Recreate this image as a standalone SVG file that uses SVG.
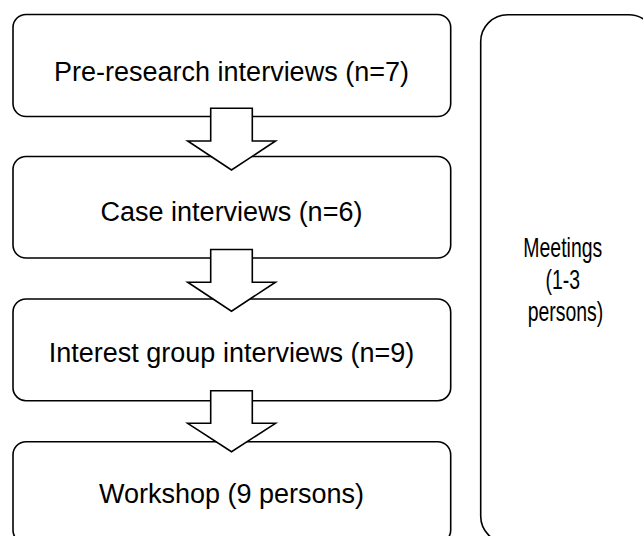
<svg xmlns="http://www.w3.org/2000/svg" width="643" height="536" viewBox="0 0 643 536">
  <style>
    .box { fill: #ffffff; stroke: #000000; stroke-width: 1.6; }
    .arrow { fill: #ffffff; stroke: #000000; stroke-width: 1.6; stroke-linejoin: miter; }
    .label { font-family: "Liberation Sans", Arial, sans-serif; font-size: 27px; fill: #000000; text-anchor: middle; }
  </style>
  <rect width="643" height="536" fill="#ffffff"/>

  <!-- Process steps -->
  <g id="pre-research">
    <rect class="box" x="13" y="14.5" width="437.7" height="102" rx="13" ry="13"/>
    <text class="label" x="231.5" y="81">Pre-research interviews (n=7)</text>
  </g>
  <g id="case">
    <rect class="box" x="13" y="156.5" width="437.7" height="101.5" rx="13" ry="13"/>
    <text class="label" x="231.5" y="221">Case interviews (n=6)</text>
  </g>
  <g id="interest-group">
    <rect class="box" x="13" y="299" width="437.7" height="101.7" rx="13" ry="13"/>
    <text class="label" x="231.5" y="362">Interest group interviews (n=9)</text>
  </g>
  <g id="workshop">
    <rect class="box" x="13" y="441.7" width="437.7" height="101.5" rx="13" ry="13"/>
    <text class="label" x="231.5" y="503">Workshop (9 persons)</text>
  </g>

  <!-- Parallel activity: narrow column, text set condensed -->
  <g id="meetings">
    <rect class="box" x="480.7" y="14.7" width="175" height="528.3" rx="27" ry="27"/>
    <g transform="translate(565.5 0) scale(0.72 1)">
      <text class="label" x="0">
        <tspan x="0" y="257">Meetings</tspan>
        <tspan x="0" y="289">(1-3</tspan>
        <tspan x="0" y="321">persons)</tspan>
      </text>
    </g>
  </g>

  <!-- Block arrows between steps -->
  <g id="connectors">
    <polygon class="arrow" points="210.7,108.3 252.3,108.3 252.3,141 275.5,141 231.5,170 187.7,141 210.7,141"/>
    <polygon class="arrow" points="210.7,249.5 252.3,249.5 252.3,282.2 275.5,282.2 231.5,311.2 187.7,282.2 210.7,282.2"/>
    <polygon class="arrow" points="210.7,390.7 252.3,390.7 252.3,423.3 275.5,423.3 231.5,451.7 187.7,423.3 210.7,423.3"/>
  </g>
</svg>
